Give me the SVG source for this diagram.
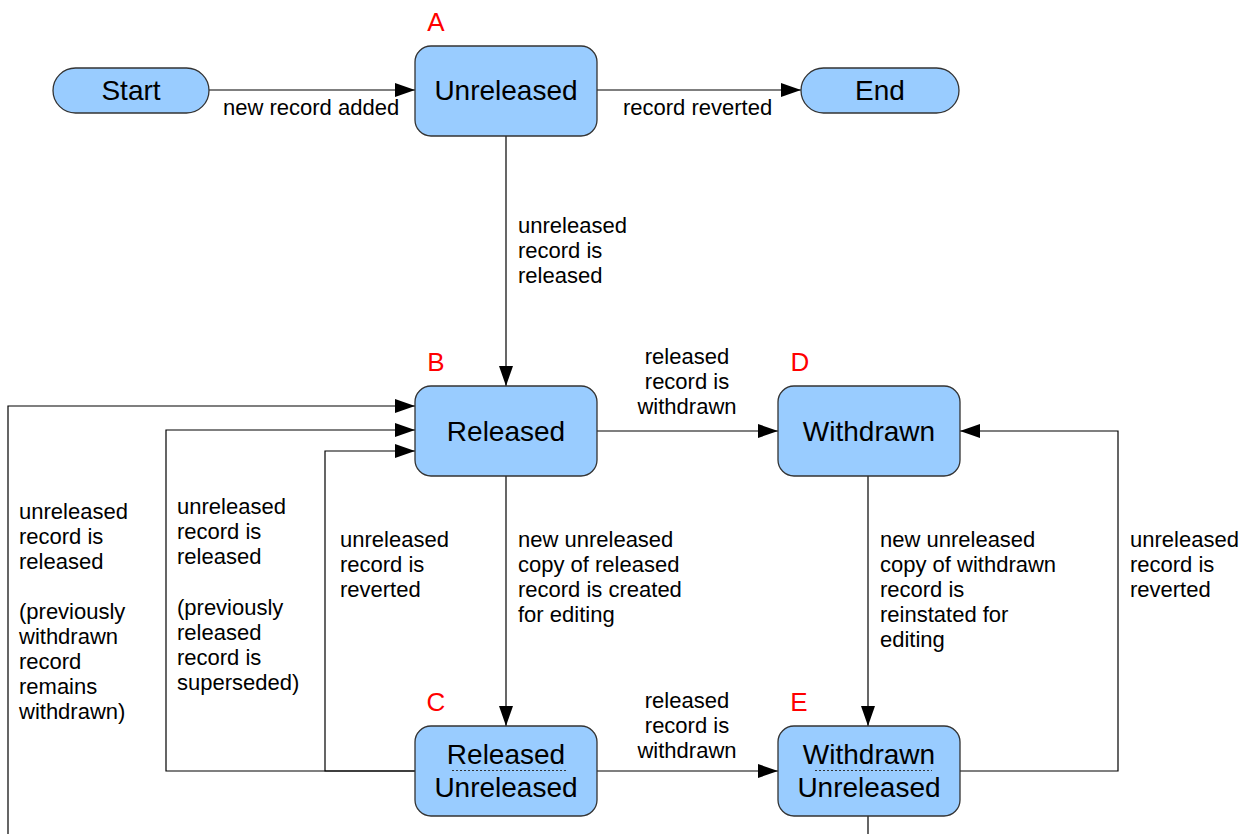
<svg xmlns="http://www.w3.org/2000/svg" width="1249" height="834" viewBox="0 0 1249 834">
<defs>
<marker id="arr" markerWidth="20" markerHeight="14" refX="20" refY="7" orient="auto" markerUnits="userSpaceOnUse">
<path d="M0,0 L20,7 L0,14 Z" fill="#000"/>
</marker>
<style>
.node{fill:#99ccff;stroke:#333;stroke-width:1.3}
.nl{font-family:"Liberation Sans",Arial,sans-serif;font-size:28px;fill:#000;text-anchor:middle}
.tag{font-family:"Liberation Sans",Arial,sans-serif;font-size:26px;fill:#ff0000;text-anchor:middle}
.el{font-family:"Liberation Sans",Arial,sans-serif;font-size:22px;fill:#000}
.mid{text-anchor:middle}
.cn{fill:none;stroke:#000;stroke-width:1.2}
.cn.a{marker-end:url(#arr)}
.dot{stroke:#333;stroke-width:1;stroke-dasharray:2 2}
</style>
</defs>
<rect width="1249" height="834" fill="#fff"/>

<g id="connectors">
<path class="cn a" d="M209 90 H415"/>
<path class="cn a" d="M597 90 H801"/>
<path class="cn a" d="M506 136 V386"/>
<path class="cn a" d="M597 431 H778"/>
<path class="cn a" d="M506 476 V726"/>
<path class="cn a" d="M868 476 V726"/>
<path class="cn a" d="M597 771 H778"/>
<path class="cn a" d="M960 771 H1118 V431 H960"/>
<path class="cn a" d="M415 771 H325 V451 H415"/>
<path class="cn a" d="M415 771 H166 V430 H415"/>
<path class="cn a" d="M868 816 V860 H8 V406 H415"/>
</g>

<g id="labels">
<text class="el" x="223" y="115">new record added</text>
<text class="el" x="623" y="115">record reverted</text>
<text class="el"><tspan x="518" y="233">unreleased</tspan><tspan x="518" y="258">record is</tspan><tspan x="518" y="283">released</tspan></text>
<text class="el mid"><tspan x="687" y="364">released</tspan><tspan x="687" y="389">record is</tspan><tspan x="687" y="414">withdrawn</tspan></text>
<text class="el"><tspan x="518" y="547">new unreleased</tspan><tspan x="518" y="572">copy of released</tspan><tspan x="518" y="597">record is created</tspan><tspan x="518" y="622">for editing</tspan></text>
<text class="el"><tspan x="880" y="547">new unreleased</tspan><tspan x="880" y="572">copy of withdrawn</tspan><tspan x="880" y="597">record is</tspan><tspan x="880" y="622">reinstated for</tspan><tspan x="880" y="647">editing</tspan></text>
<text class="el"><tspan x="1130" y="547">unreleased</tspan><tspan x="1130" y="572">record is</tspan><tspan x="1130" y="597">reverted</tspan></text>
<text class="el"><tspan x="340" y="547">unreleased</tspan><tspan x="340" y="572">record is</tspan><tspan x="340" y="597">reverted</tspan></text>
<text class="el"><tspan x="19" y="519">unreleased</tspan><tspan x="19" y="544">record is</tspan><tspan x="19" y="569">released</tspan><tspan x="19" y="619">(previously</tspan><tspan x="19" y="644">withdrawn</tspan><tspan x="19" y="669">record</tspan><tspan x="19" y="694">remains</tspan><tspan x="19" y="719">withdrawn)</tspan></text>
<text class="el"><tspan x="177" y="514">unreleased</tspan><tspan x="177" y="539">record is</tspan><tspan x="177" y="564">released</tspan><tspan x="177" y="615">(previously</tspan><tspan x="177" y="640">released</tspan><tspan x="177" y="665">record is</tspan><tspan x="177" y="690">superseded)</tspan></text>
<text class="el mid"><tspan x="687" y="708">released</tspan><tspan x="687" y="733">record is</tspan><tspan x="687" y="758">withdrawn</tspan></text>
</g>

<g id="start">
<rect class="node" x="53" y="68" width="156" height="45" rx="22.5"/>
<text class="nl" x="131" y="100">Start</text>
</g>
<g id="end">
<rect class="node" x="801" y="68" width="158" height="45" rx="22.5"/>
<text class="nl" x="880" y="100">End</text>
</g>
<g id="nodeA">
<rect class="node" x="415" y="46" width="182" height="90" rx="16"/>
<text class="nl" x="506" y="100">Unreleased</text>
<text class="tag" x="436" y="31">A</text>
</g>
<g id="nodeB">
<rect class="node" x="415" y="386" width="182" height="90" rx="16"/>
<text class="nl" x="506" y="441">Released</text>
<text class="tag" x="436" y="371">B</text>
</g>
<g id="nodeD">
<rect class="node" x="778" y="386" width="182" height="90" rx="16"/>
<text class="nl" x="869" y="441">Withdrawn</text>
<text class="tag" x="800" y="371">D</text>
</g>
<g id="nodeC">
<rect class="node" x="415" y="726" width="182" height="90" rx="16"/>
<text class="nl" x="506" y="764">Released</text>
<line class="dot" x1="452" y1="770.5" x2="566" y2="770.5"/>
<text class="nl" x="506" y="797">Unreleased</text>
<text class="tag" x="436" y="711">C</text>
</g>
<g id="nodeE">
<rect class="node" x="778" y="726" width="182" height="90" rx="16"/>
<text class="nl" x="869" y="764">Withdrawn</text>
<line class="dot" x1="815" y1="770.5" x2="932" y2="770.5"/>
<text class="nl" x="869" y="797">Unreleased</text>
<text class="tag" x="799" y="711">E</text>
</g>
</svg>
